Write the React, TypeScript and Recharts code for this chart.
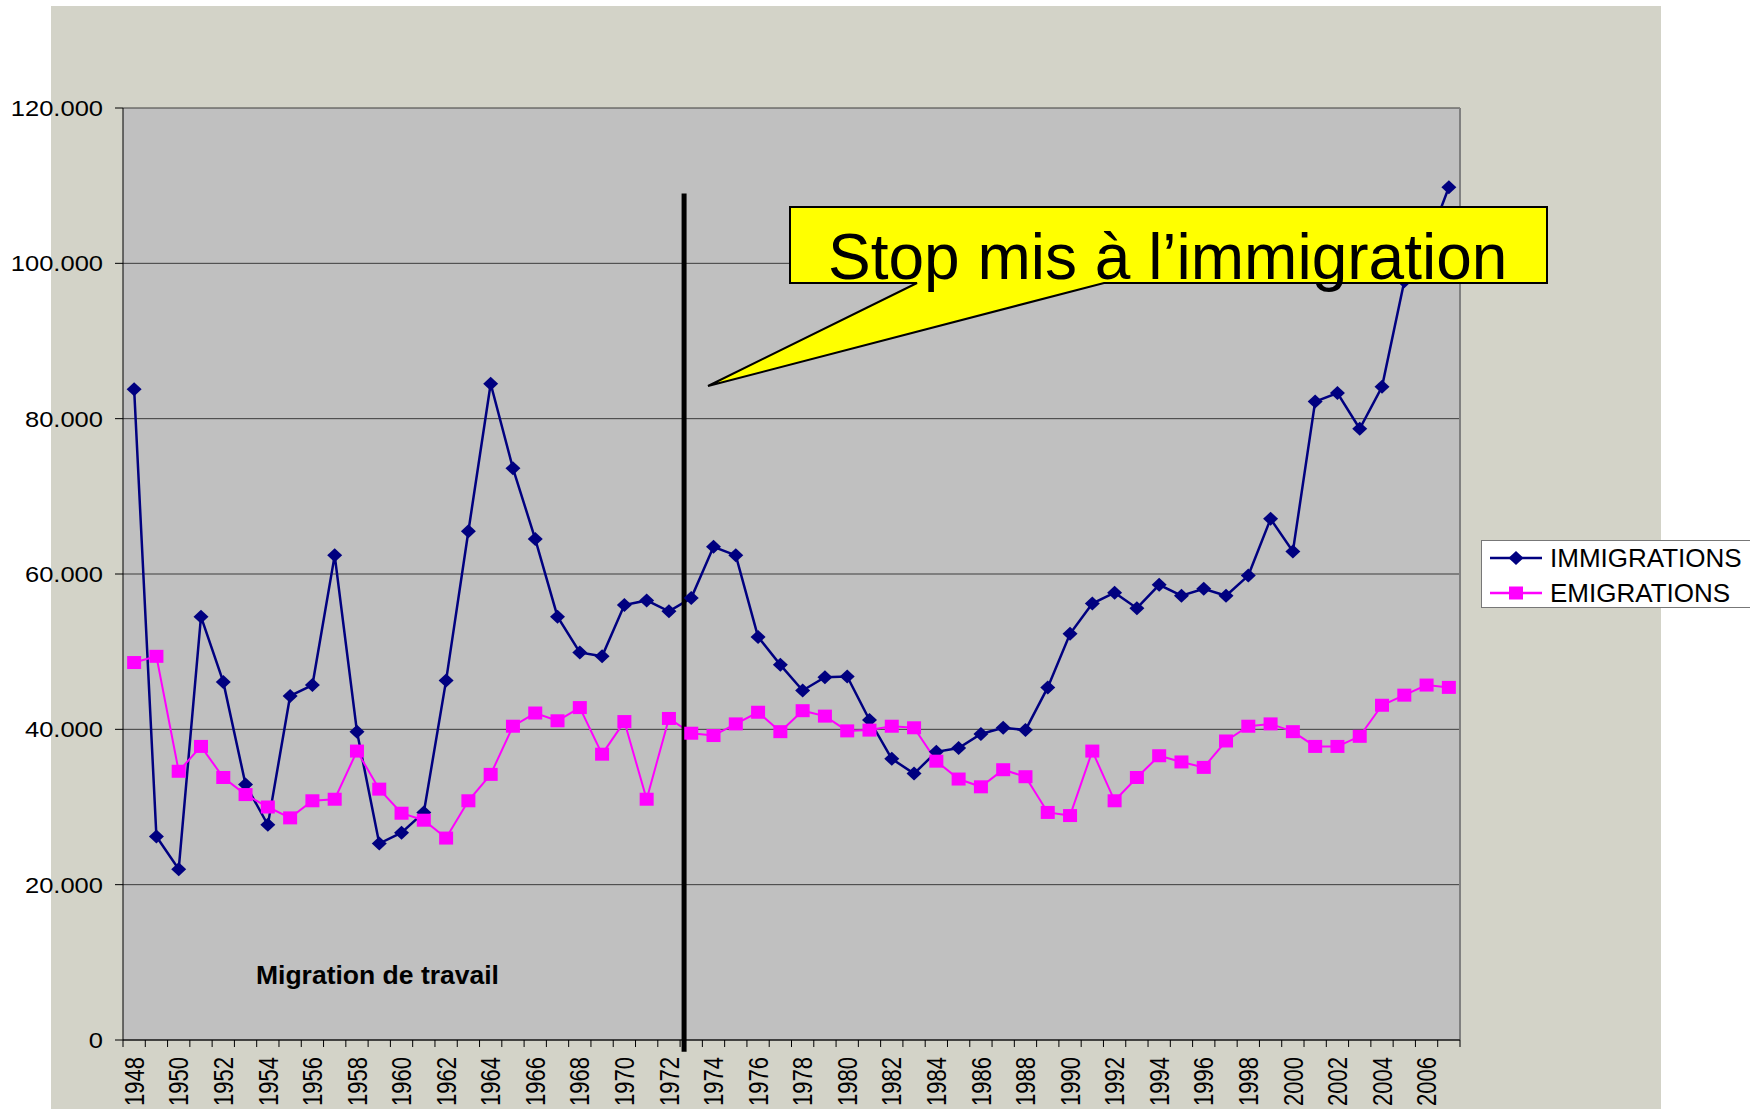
import React from 'react';
import { LineChart, Line, XAxis, YAxis, CartesianGrid, Legend, ReferenceLine } from 'recharts';

const YEARS = [
  '1948', '1949', '1950', '1951', '1952', '1953', '1954', '1955', '1956', '1957',
  '1958', '1959', '1960', '1961', '1962', '1963', '1964', '1965', '1966', '1967',
  '1968', '1969', '1970', '1971', '1972', '1973', '1974', '1975', '1976', '1977',
  '1978', '1979', '1980', '1981', '1982', '1983', '1984', '1985', '1986', '1987',
  '1988', '1989', '1990', '1991', '1992', '1993', '1994', '1995', '1996', '1997',
  '1998', '1999', '2000', '2001', '2002', '2003', '2004', '2005', '2006', '2007',
];

const IMMIGRATIONS = [
  83800, 26200, 22000, 54500, 46100, 32900, 27700, 44300, 45700, 62400,
  39700, 25300, 26700, 29300, 46300, 65500, 84500, 73600, 64500, 54500,
  49900, 49400, 56000, 56600, 55200, 56900, 63500, 62400, 51900, 48300,
  45000, 46700, 46800, 41200, 36200, 34300, 37100, 37600, 39400, 40200,
  39900, 45400, 52300, 56200, 57600, 55600, 58600, 57200, 58100, 57200,
  59800, 67100, 62900, 82200, 83300, 78700, 84100, 97700, 102200, 109800,
];

const EMIGRATIONS = [
  48600, 49400, 34600, 37800, 33800, 31600, 30000, 28600, 30800, 31000,
  37200, 32300, 29200, 28300, 26000, 30800, 34200, 40400, 42100, 41100,
  42800, 36800, 41000, 31000, 41400, 39500, 39200, 40700, 42200, 39700,
  42400, 41700, 39800, 39900, 40400, 40200, 35900, 33600, 32600, 34800,
  33900, 29300, 28900, 37200, 30800, 33800, 36600, 35800, 35100, 38500,
  40400, 40700, 39700, 37800, 37800, 39100, 43100, 44400, 45700, 45400,
];

const SERIES_ORDER = ['IMMIGRATIONS', 'EMIGRATIONS'];

const Y_TICKS = [0, 20000, 40000, 60000, 80000, 100000, 120000];

const data = YEARS.map((year, i) => ({
  year,
  immigrations: IMMIGRATIONS[i],
  emigrations: EMIGRATIONS[i],
}));

const FONT = '"Liberation Sans", Arial, sans-serif';
const W = 1750;
const H = 1109;
const NAVY = '#000080';
const PINK = '#FF00FF';
const HALF_BAND = (1460 - 123) / YEARS.length / 2;

// 20000 -> "20.000"
const fmt = (v: number) =>
  v === 0 ? '0' : `${Math.floor(v / 1000)}.${String(v % 1000).padStart(3, '0')}`;

const Diamond = (props: any) => {
  const { cx, cy, index } = props;
  if (cx == null || cy == null) return null;
  return (
    <path
      key={`d-${index}`}
      d={`M${cx},${cy - 7}L${cx + 7.5},${cy}L${cx},${cy + 7}L${cx - 7.5},${cy}Z`}
      fill={NAVY}
    />
  );
};

const Square = (props: any) => {
  const { cx, cy, index } = props;
  if (cx == null || cy == null) return null;
  return <rect key={`s-${index}`} x={cx - 7} y={cy - 6.5} width={14} height={13} fill={PINK} />;
};

const YearTick = (props: any) => {
  const { x, y, payload, index } = props;
  const half = payload && payload.offset ? payload.offset : HALF_BAND;
  const showLabel = Number(payload.value) % 2 === 0;
  return (
    <g>
      <line x1={x - half} x2={x - half} y1={y} y2={y + 7} stroke="#000" />
      {index === YEARS.length - 1 && (
        <line x1={x + half} x2={x + half} y1={y} y2={y + 7} stroke="#000" />
      )}
      {showLabel && (
        <text
          transform={`translate(${x},${y + 17}) rotate(-90) scale(1,1.22)`}
          textAnchor="end"
          dy="0.36em"
          fontSize={22}
          fontFamily={FONT}
          fill="#000"
        >
          {payload.value}
        </text>
      )}
    </g>
  );
};

const ValueTick = (props: any) => {
  const { x, y, payload } = props;
  return (
    <text
      transform={`translate(${x},${y}) scale(1.16,1)`}
      textAnchor="end"
      dy="0.36em"
      fontSize={22}
      fontFamily={FONT}
      fill="#000"
    >
      {fmt(payload.value)}
    </text>
  );
};

const LegendBox = (props: any) => {
  const items = [...(props.payload || [])].sort(
    (a: any, b: any) => SERIES_ORDER.indexOf(a.value) - SERIES_ORDER.indexOf(b.value),
  );
  return (
    <div
      style={{
        position: 'relative',
        width: 280,
        height: 68,
        background: '#fff',
        border: '1px solid #777',
        boxSizing: 'border-box',
        fontFamily: FONT,
        fontSize: 26,
        color: '#000',
      }}
    >
      {items.map((it: any, i: number) => (
        <div
          key={it.value}
          style={{ position: 'absolute', left: 8, top: 2 + i * 35, height: 30, display: 'flex', alignItems: 'center' }}
        >
          <svg width={54} height={30}>
            <line x1={0} x2={52} y1={15} y2={15} stroke={it.color} strokeWidth={2.5} />
            {it.value === 'IMMIGRATIONS' ? (
              <path d="M26,8L33.5,15L26,22L18.5,15Z" fill={it.color} />
            ) : (
              <rect x={19} y={8.5} width={14} height={13} fill={it.color} />
            )}
          </svg>
          <span style={{ marginLeft: 6, lineHeight: '30px', whiteSpace: 'nowrap' }}>{it.value}</span>
        </div>
      ))}
    </div>
  );
};

// the 1973 marker sits a few px right of the 1972/1973 tick
const StopLine = (props: any) => (
  <line x1={props.x1 + 4} y1={props.y1} x2={props.x2 + 4} y2={props.y2} stroke="#000" strokeWidth={5} />
);

export default function App() {
  return (
    <div style={{ position: 'absolute', left: 0, top: 0, width: W, height: H, overflow: 'hidden', background: '#fff' }}>
      <div style={{ position: 'absolute', left: 51, top: 6, width: 1610, height: 1103, background: '#D3D3C8' }} />
      <div style={{ position: 'absolute', left: 0, top: 0 }}>
        <LineChart width={W} height={H} data={data} margin={{ top: 108, right: 290, bottom: 0, left: 43 }}>
          <CartesianGrid vertical={false} fill="#C0C0C0" stroke="#3c3c3c" fillOpacity={1} />
          <XAxis
            dataKey="year"
            scale="band"
            interval={0}
            height={69}
            tickSize={0}
            tickMargin={0}
            tickLine={false}
            axisLine={{ stroke: '#000' }}
            tick={<YearTick />}
          />
          <YAxis
            type="number"
            domain={[0, 120000]}
            ticks={Y_TICKS}
            interval={0}
            width={80}
            tickSize={8}
            tickMargin={12}
            tick={<ValueTick />}
            tickLine={{ stroke: '#000' }}
            axisLine={{ stroke: '#000' }}
            allowDataOverflow
          />
          <ReferenceLine x="2007" position="end" stroke="#808080" strokeWidth={2} />
          <Line
            dataKey="immigrations"
            name="IMMIGRATIONS"
            stroke={NAVY}
            strokeWidth={2.5}
            dot={Diamond}
            activeDot={false}
            isAnimationActive={false}
          />
          <Line
            dataKey="emigrations"
            name="EMIGRATIONS"
            stroke={PINK}
            strokeWidth={2}
            dot={Square}
            activeDot={false}
            isAnimationActive={false}
          />
          <ReferenceLine
            segment={[{ x: '1973', y: 109000 }, { x: '1973', y: -1500 }]}
            position="start"
            stroke="#000"
            strokeWidth={5}
            ifOverflow="visible"
            shape={StopLine}
          />
          <Legend
            layout="vertical"
            align="center"
            verticalAlign="middle"
            content={<LegendBox />}
            wrapperStyle={{ left: 1481, top: 540, width: 280, height: 68 }}
          />
        </LineChart>
      </div>
      <svg width={W} height={H} style={{ position: 'absolute', left: 0, top: 0, pointerEvents: 'none' }}>
        <path
          d="M790,207 H1547 V283 H1104 L708,386 L917,283 H790 Z"
          fill="#FFFF00"
          stroke="#000"
          strokeWidth={2}
        />
        <text x={828} y={279} fontSize={64} fontFamily={FONT} fill="#000">
          Stop mis à l’immigration
        </text>
        <text x={256} y={984} fontSize={26.5} fontWeight="bold" fontFamily={FONT} fill="#000">
          Migration de travail
        </text>
      </svg>
    </div>
  );
}
